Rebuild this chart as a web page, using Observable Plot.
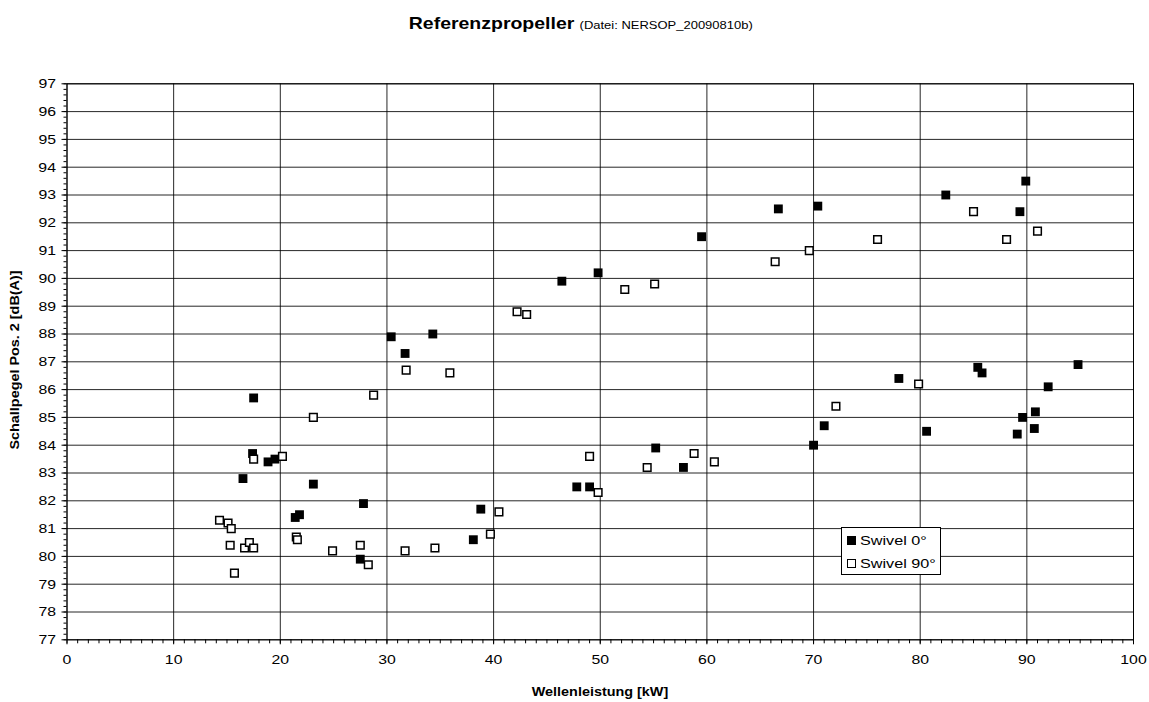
<!DOCTYPE html>
<html>
<head>
<meta charset="utf-8">
<script src="https://cdn.jsdelivr.net/npm/d3@7"></script>
<script src="https://cdn.jsdelivr.net/npm/@observablehq/plot@0.6"></script>
<style>
  html, body { margin: 0; padding: 0; background: #fff; }
  body { width: 1149px; height: 702px; position: relative; overflow: hidden; font-family: "Liberation Sans", Arial, sans-serif; }
  #title { height: 50px; text-align: center; padding-top: 14px; padding-left: 13px; box-sizing: border-box; line-height: 18px; white-space: nowrap; }
  #title .inner { display: inline-block; transform: scaleX(1.18); transform-origin: center; }
  #title b { font-size: 16.5px; }
  #title span { font-size: 11px; }
  #legend { position: absolute; left: 841px; top: 527px; width: 100px; height: 48px; border: 1px solid #000; background: #fff; font-size: 13.5px; box-sizing: border-box; }
  #legend .row { position: absolute; left: 5px; height: 18px; line-height: 18px; white-space: nowrap; }
  #legend .sym { display: inline-block; width: 9px; height: 9px; box-sizing: border-box; margin-right: 4px; vertical-align: 0px; }
  #legend .lbl { display: inline-block; transform: scaleX(1.2); transform-origin: left center; }
</style>
</head>
<body>
<div id="title"><div class="inner"><b>Referenzpropeller</b> <span>(Datei: NERSOP_20090810b)</span></div></div>
<div id="chart"></div>
<div id="legend"></div>
<script>
const seriesNames = ["Swivel 0°", "Swivel 90°"];

const swivel0Power = [16.5, 17.4, 17.5, 18.85, 19.5, 21.4, 21.8, 23.1, 27.5, 27.8, 30.4, 31.7, 34.3, 38.1, 38.8, 46.4, 47.8, 49.0, 49.8, 55.2, 57.8, 59.5, 66.7, 70.0, 70.4, 71.0, 78.0, 80.6, 82.4, 85.4, 85.8, 89.1, 89.35, 89.6, 89.9, 90.7, 90.8, 92.0, 94.8];
const swivel0Level = [82.8, 83.7, 85.7, 83.4, 83.5, 81.4, 81.5, 82.6, 79.9, 81.9, 87.9, 87.3, 88.0, 80.6, 81.7, 89.9, 82.5, 82.5, 90.2, 83.9, 83.2, 91.5, 92.5, 84.0, 92.6, 84.7, 86.4, 84.5, 93.0, 86.8, 86.6, 84.4, 92.4, 85.0, 93.5, 84.6, 85.2, 86.1, 86.9];

const swivel90Power = [14.3, 15.1, 15.3, 15.4, 15.7, 16.65, 17.1, 17.5, 17.5, 20.2, 21.5, 21.6, 23.1, 24.9, 27.5, 28.25, 28.75, 31.7, 31.8, 34.5, 35.9, 39.7, 40.5, 42.2, 43.1, 49.0, 49.8, 52.3, 54.4, 55.1, 58.8, 60.7, 66.4, 69.6, 72.1, 76.0, 79.85, 85.0, 88.1, 91.0];
const swivel90Level = [81.3, 81.2, 80.4, 81.0, 79.4, 80.3, 80.5, 80.3, 83.5, 83.6, 80.7, 80.6, 85.0, 80.2, 80.4, 79.7, 85.8, 80.2, 86.7, 80.3, 86.6, 80.8, 81.6, 88.8, 88.7, 83.6, 82.3, 89.6, 83.2, 89.8, 83.7, 83.4, 90.6, 91.0, 85.4, 91.4, 86.2, 92.4, 91.4, 91.7];

const xMajorTicks = d3.range(0, 101, 10);
const xMinorTicks = d3.range(0, 101, 1);
const yMajorTicks = d3.range(77, 98, 1);
const yMinorTicks = d3.range(77, 97.01, 0.2).map(v => Math.round(v * 10) / 10);

const s0 = swivel0Power.map((p, i) => ({power: p, level: swivel0Level[i]}));
const s90 = swivel90Power.map((p, i) => ({power: p, level: swivel90Level[i]}));

const chart = Plot.plot({
  width: 1149,
  height: 652,
  marginTop: 33.3,
  marginBottom: 62.7,
  marginLeft: 66.5,
  marginRight: 16,
  style: {fontFamily: "'Liberation Sans', Arial, sans-serif", fontSize: "13px", color: "#000", background: "#fff"},
  x: {domain: [0, 100]},
  y: {domain: [77, 97]},
  marks: [
    Plot.gridY(yMajorTicks, {stroke: "#000", strokeOpacity: 0.85, strokeWidth: 1}),
    Plot.gridX(xMajorTicks, {stroke: "#000", strokeOpacity: 0.85, strokeWidth: 1}),
    Plot.frame({stroke: "#000", strokeWidth: 1}),
    Plot.axisX(xMinorTicks, {tickSize: 4, text: null, label: null, stroke: "#000"}),
    Plot.axisX(xMajorTicks, {tickSize: 5, tickPadding: 10, fontSize: 13.5, label: "Wellenleistung [kW]", labelAnchor: "center", labelArrow: "none", labelOffset: 56, stroke: "#000"}),
    Plot.axisY(yMinorTicks, {tickSize: 3, text: null, label: null, stroke: "#000"}),
    Plot.axisY(yMajorTicks, {tickSize: 5, tickPadding: 6, fontSize: 13.5, label: "Schallpegel Pos. 2 [dB(A)]", labelAnchor: "center", labelArrow: "none", labelOffset: 57, stroke: "#000"}),
    Plot.dot(s0, {x: "power", y: "level", symbol: "square", r: 5, fill: "#000", stroke: "none"}),
    Plot.dot(s90, {x: "power", y: "level", symbol: "square", r: 4.3, fill: "#fff", stroke: "#000", strokeWidth: 1.5})
  ]
});
document.getElementById("chart").appendChild(chart);
const xLabel = chart.querySelector("g[aria-label='x-axis label'] text");
const yLabel = chart.querySelector("g[aria-label='y-axis label'] text");
[xLabel, yLabel].forEach(t => { if (t) { t.style.fontWeight = "bold"; t.style.fontSize = "12.3px"; } });

// the reference's lettering is wider than the plain font: stretch it, keeping each anchor in place
chart.querySelectorAll("text").forEach(t => {
  const len = t.getComputedTextLength();
  if (!(len > 0)) return;
  const r0 = t.getBoundingClientRect();
  t.setAttribute("textLength", (len * 1.17).toFixed(2));
  t.setAttribute("lengthAdjust", "spacingAndGlyphs");
  if (t === xLabel || t === yLabel) return;
  const r1 = t.getBoundingClientRect();
  const anchor = getComputedStyle(t).textAnchor;
  let dx = 0;
  if (anchor === "middle") dx = (r0.left + r0.right) / 2 - (r1.left + r1.right) / 2;
  else if (anchor === "end") dx = r0.right - r1.right;
  if (Math.abs(dx) > 0.05) {
    const tr = t.getAttribute("transform") || "";
    t.setAttribute("transform", `translate(${dx.toFixed(2)},0) ${tr}`);
  }
});
// centre the axis titles on the plotting area, as in the reference
const svgRect = chart.getBoundingClientRect();
function centreOn(t, cx, cy) {
  if (!t) return;
  const r = t.getBoundingClientRect();
  const dx = cx == null ? 0 : cx - ((r.left + r.right) / 2 - svgRect.left);
  const dy = cy == null ? 0 : cy - ((r.top + r.bottom) / 2 - svgRect.top);
  const tr = t.getAttribute("transform") || "";
  t.setAttribute("transform", `translate(${dx.toFixed(2)},${dy.toFixed(2)}) ${tr}`);
}
centreOn(xLabel, 600, null);
centreOn(yLabel, null, 310);

const legend = document.getElementById("legend");
seriesNames.forEach((name, i) => {
  const row = document.createElement("div");
  row.className = "row";
  row.style.top = (i === 0 ? 4 : 27) + "px";
  const sym = document.createElement("span");
  sym.className = "sym";
  sym.style.background = i === 0 ? "#000" : "#fff";
  sym.style.border = i === 0 ? "none" : "1.5px solid #000";
  row.appendChild(sym);
  const lbl = document.createElement("span");
  lbl.className = "lbl";
  lbl.textContent = name;
  row.appendChild(lbl);
  legend.appendChild(row);
});
</script>
</body>
</html>
